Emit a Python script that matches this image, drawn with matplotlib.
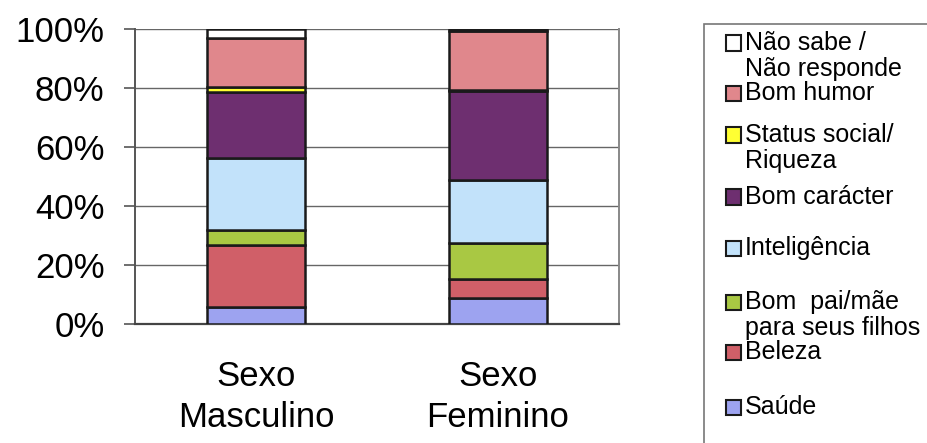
import matplotlib
matplotlib.use("Agg")
import matplotlib.pyplot as plt
from matplotlib.patches import Rectangle
from matplotlib.ticker import PercentFormatter

plt.rcParams['font.family'] = ['Liberation Sans', 'DejaVu Sans']

groups = ['Sexo\nMasculino', 'Sexo\nFeminino']

# stacked from the bottom up (percent)
categories = ['Saúde', 'Beleza', 'Bom  pai/mãe\npara seus filhos', 'Inteligência',
              'Bom carácter', 'Status social/\nRiqueza', 'Bom humor',
              'Não sabe /\nNão responde']
masculino = [5.6, 21.1, 5.3, 24.2, 22.4, 1.7, 16.5, 3.2]
feminino = [8.7, 6.5, 12.3, 21.2, 30.2, 0.3, 20.0, 0.8]
colors = ['#9DA3F0', '#D05F68', '#A9C843', '#C2E2FA',
          '#6E2F70', '#FFFF33', '#E0878C', '#FFFFFF']

fig = plt.figure(figsize=(9.28, 4.43), dpi=100)
ax = fig.add_axes([135 / 928, 1 - 324 / 443, 484 / 928, 295 / 443])

bottoms = [0.0, 0.0]
for i, cat in enumerate(categories):
    vals = [masculino[i], feminino[i]]
    ax.bar([0, 1], vals, width=0.405, bottom=bottoms, color=colors[i],
           edgecolor='#1a1a1a', linewidth=1.8, zorder=3)
    bottoms = [b + v for b, v in zip(bottoms, vals)]

ax.set_xlim(-0.5, 1.5)
ax.set_ylim(0, 100)
ax.set_yticks(range(0, 101, 20))
ax.yaxis.set_major_formatter(PercentFormatter(decimals=0))
ax.set_xticks([0, 1])
ax.set_xticklabels(groups, fontsize=25, linespacing=1.3)
ax.tick_params(axis='x', length=0, pad=26)
ax.tick_params(axis='y', labelsize=25, length=8, width=1.2, color='#555555',
               pad=14, direction='out')
ax.grid(axis='y', color='#666666', linewidth=1.0, zorder=0)

ax.spines['top'].set_visible(False)
ax.spines['left'].set_color('#555555')
ax.spines['left'].set_linewidth(1.4)
ax.spines['bottom'].set_color('#444444')
ax.spines['bottom'].set_linewidth(1.6)
ax.spines['right'].set_color('#888888')
ax.spines['right'].set_linewidth(1.4)

# legend box, drawn by hand to keep the uneven spacing of the entries
W, H = 928.0, 443.0
fig.patches.append(Rectangle((704 / W, -0.05), 0.3, 1 - 24 / H + 0.05,
                             transform=fig.transFigure, facecolor='white',
                             edgecolor='#777777', linewidth=1.2))
entry_y = [43, 93, 135, 197, 248, 302, 352, 407]
legend_items = list(zip(categories, colors))[::-1]
for (label, col), y in zip(legend_items, entry_y):
    fig.patches.append(Rectangle((726 / W, 1 - (y + 7.5) / H), 15 / W, 15 / H,
                                 transform=fig.transFigure, facecolor=col,
                                 edgecolor='#1a1a1a', linewidth=1.5))
    fig.text(745 / W, 1 - (y - 12) / H, label, fontsize=18, va='top',
             ha='left', linespacing=1.12)

fig.savefig('out.png', dpi=100)
